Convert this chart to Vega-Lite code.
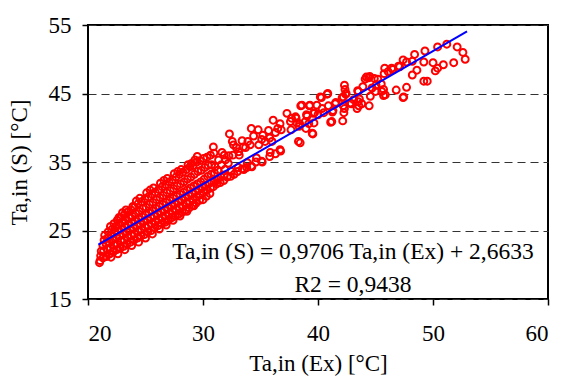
{
"$schema":"https://vega.github.io/schema/vega-lite/v6.json",
"width":460,"height":274,
"autosize":{"type":"none"},
"padding":{"left":88,"top":25,"right":14,"bottom":79},
"background":"white",
"config":{"view":{"stroke":"black","strokeWidth":2},"font":"'Liberation Serif', serif",
"axis":{"labelFont":"'Liberation Serif', serif","titleFont":"'Liberation Serif', serif"},
"text":{"font":"'Liberation Serif', serif"}},
"datasets":{
"pts":[
{"x":21.0,"y":20.3},{"x":21.05,"y":20.6},{"x":21.1,"y":21.3},{"x":21.15,"y":22.0},
{"x":21.3,"y":21.0},{"x":21.35,"y":22.0},{"x":21.3,"y":22.8},
{"x":21.6,"y":21.2},{"x":21.65,"y":22.3},{"x":21.55,"y":23.1},
{"x":21.9,"y":21.6},{"x":21.95,"y":22.4},{"x":21.85,"y":23.3},
{"x":22.2,"y":21.9},{"x":22.25,"y":22.9},{"x":22.15,"y":23.7},
{"x":22.5,"y":22.2},{"x":22.55,"y":23.0},{"x":22.45,"y":24.0},
{"x":22.8,"y":22.4},{"x":22.85,"y":23.5},{"x":22.75,"y":24.2},
{"x":23.1,"y":22.7},{"x":23.15,"y":23.6},{"x":23.05,"y":24.5},
{"x":23.4,"y":23.0},{"x":23.45,"y":24.0},{"x":23.35,"y":24.8},
{"x":23.7,"y":23.3},{"x":23.75,"y":24.3},{"x":23.65,"y":25.1},
{"x":24.0,"y":23.6},{"x":24.05,"y":24.5},{"x":23.95,"y":25.4},
{"x":24.3,"y":23.9},{"x":24.35,"y":24.9},{"x":24.25,"y":25.7},
{"x":24.6,"y":24.2},{"x":24.65,"y":25.1},{"x":24.55,"y":26.0},
{"x":24.9,"y":24.4},{"x":24.95,"y":25.5},{"x":24.85,"y":26.3},
{"x":25.2,"y":24.8},{"x":25.25,"y":25.7},{"x":25.15,"y":26.6},
{"x":25.5,"y":25.0},{"x":25.55,"y":26.0},{"x":25.45,"y":26.9},
{"x":25.8,"y":25.4},{"x":25.85,"y":26.3},{"x":25.75,"y":27.1},
{"x":26.1,"y":25.7},{"x":26.15,"y":26.6},{"x":26.05,"y":27.4},
{"x":26.4,"y":26.0},{"x":26.45,"y":26.9},{"x":26.35,"y":27.7},
{"x":26.7,"y":26.2},{"x":26.75,"y":27.2},{"x":26.65,"y":28.0},
{"x":27.0,"y":26.5},{"x":27.05,"y":27.5},{"x":26.95,"y":28.3},
{"x":27.3,"y":26.9},{"x":27.35,"y":27.8},{"x":27.25,"y":28.6},
{"x":27.6,"y":27.1},{"x":27.65,"y":28.1},{"x":27.55,"y":28.9},
{"x":27.9,"y":27.4},{"x":27.95,"y":28.4},{"x":27.85,"y":29.2},
{"x":28.2,"y":27.7},{"x":28.25,"y":28.6},{"x":28.15,"y":29.5},
{"x":28.5,"y":28.0},{"x":28.55,"y":29.0},{"x":28.45,"y":29.8},
{"x":28.8,"y":28.3},{"x":28.85,"y":29.2},{"x":28.75,"y":30.1},
{"x":29.1,"y":28.7},{"x":29.15,"y":29.5},{"x":29.05,"y":30.4},
{"x":29.4,"y":29.0},{"x":29.45,"y":29.9},{"x":29.35,"y":30.7},
{"x":29.7,"y":29.4},{"x":29.75,"y":30.2},{"x":29.65,"y":31.0},
{"x":30.0,"y":29.5},{"x":30.05,"y":30.6},{"x":29.95,"y":31.3},
{"x":30.3,"y":30.0},{"x":30.35,"y":30.9},{"x":30.25,"y":31.6},
{"x":30.6,"y":30.4},{"x":30.65,"y":31.2},{"x":30.55,"y":31.9},
{"x":30.9,"y":31.4},{"x":30.95,"y":32.1},
{"x":31.2,"y":31.8},{"x":31.25,"y":32.4},
{"x":31.5,"y":32.0},{"x":31.55,"y":32.8},
{"x":31.8,"y":32.3},{"x":31.85,"y":33.1},
{"x":32.1,"y":32.8},{"x":32.4,"y":32.9},{"x":32.45,"y":33.6},
{"x":32.7,"y":33.2},{"x":33.0,"y":33.6},{"x":33.05,"y":34.2},
{"x":33.4,"y":34.0},{"x":33.8,"y":34.2},{"x":33.85,"y":34.9},
{"x":34.2,"y":34.4},{"x":34.6,"y":35.0},{"x":34.65,"y":35.6},
{"x":35.1,"y":35.1},{"x":35.8,"y":35.8},{"x":35.85,"y":36.4},
{"x":36.3,"y":36.2},{"x":36.7,"y":36.8},{"x":36.75,"y":36.6},
{"x":22.0,"y":21.1},{"x":22.6,"y":21.6},{"x":23.2,"y":22.2},{"x":23.8,"y":22.8},
{"x":24.4,"y":23.3},{"x":25.0,"y":23.9},{"x":25.6,"y":24.5},{"x":26.2,"y":25.2},
{"x":26.8,"y":25.8},{"x":27.4,"y":26.5},{"x":28.0,"y":27.1},{"x":28.6,"y":27.8},
{"x":29.2,"y":28.6},
{"x":21.4,"y":23.6},{"x":21.45,"y":24.3},
{"x":21.7,"y":23.9},{"x":21.75,"y":24.8},
{"x":22.0,"y":24.3},{"x":22.05,"y":25.1},{"x":21.95,"y":25.6},
{"x":22.3,"y":24.6},{"x":22.35,"y":25.5},{"x":22.25,"y":26.0},
{"x":22.6,"y":24.9},{"x":22.65,"y":25.8},{"x":22.55,"y":26.5},
{"x":22.9,"y":25.2},{"x":22.95,"y":26.2},{"x":22.85,"y":26.9},
{"x":23.2,"y":25.5},{"x":23.25,"y":26.5},{"x":23.15,"y":27.3},
{"x":23.5,"y":25.8},{"x":23.55,"y":26.9},{"x":23.45,"y":27.7},
{"x":23.8,"y":26.1},{"x":23.85,"y":27.1},{"x":23.75,"y":28.0},{"x":23.9,"y":28.5},
{"x":24.1,"y":26.4},{"x":24.15,"y":27.5},{"x":24.05,"y":28.4},
{"x":24.4,"y":26.7},{"x":24.45,"y":27.8},{"x":24.35,"y":28.9},
{"x":24.7,"y":27.0},{"x":24.75,"y":28.2},{"x":24.65,"y":29.2},
{"x":25.0,"y":27.3},{"x":25.05,"y":28.4},{"x":24.95,"y":29.6},
{"x":25.3,"y":27.6},{"x":25.35,"y":28.8},{"x":25.25,"y":29.9},
{"x":25.6,"y":27.9},{"x":25.65,"y":29.1},{"x":25.55,"y":30.3},
{"x":25.9,"y":28.2},{"x":25.95,"y":29.5},{"x":25.85,"y":30.6},
{"x":26.2,"y":28.5},{"x":26.25,"y":29.8},{"x":26.15,"y":31.0},
{"x":26.5,"y":28.8},{"x":26.55,"y":30.1},{"x":26.45,"y":31.4},
{"x":26.8,"y":29.1},{"x":26.85,"y":30.5},{"x":26.75,"y":31.7},
{"x":27.1,"y":29.4},{"x":27.15,"y":30.8},{"x":27.05,"y":32.1},
{"x":27.4,"y":29.7},{"x":27.45,"y":31.1},{"x":27.35,"y":32.4},
{"x":27.7,"y":30.0},{"x":27.75,"y":31.5},{"x":27.65,"y":32.8},
{"x":28.0,"y":30.3},{"x":28.05,"y":31.8},{"x":27.95,"y":33.2},
{"x":28.3,"y":30.6},{"x":28.35,"y":32.1},{"x":28.25,"y":33.5},
{"x":28.6,"y":30.9},{"x":28.65,"y":32.5},{"x":28.55,"y":33.9},
{"x":28.9,"y":31.2},{"x":28.95,"y":32.8},{"x":28.85,"y":34.3},{"x":29.0,"y":34.8},
{"x":29.2,"y":31.5},{"x":29.25,"y":33.2},{"x":29.15,"y":34.5},
{"x":29.5,"y":31.8},{"x":29.55,"y":33.6},{"x":29.45,"y":35.0},{"x":29.5,"y":35.8},
{"x":29.8,"y":32.1},{"x":29.85,"y":33.8},{"x":29.75,"y":35.2},
{"x":30.1,"y":32.5},{"x":30.15,"y":34.2},{"x":30.05,"y":35.5},
{"x":30.4,"y":32.9},{"x":30.45,"y":34.5},{"x":30.35,"y":35.7},
{"x":30.7,"y":33.2},{"x":30.75,"y":34.6},{"x":30.65,"y":36.0},
{"x":22.7,"y":26.9},{"x":23.0,"y":27.6},{"x":23.3,"y":28.0},{"x":24.2,"y":29.3},
{"x":24.5,"y":29.7},{"x":25.1,"y":30.5},{"x":25.4,"y":30.9},{"x":25.7,"y":31.2},
{"x":26.3,"y":31.9},{"x":26.6,"y":32.3},{"x":26.9,"y":32.6},{"x":27.5,"y":33.3},
{"x":27.8,"y":33.6},{"x":28.1,"y":33.9},{"x":28.7,"y":34.6},{"x":29.3,"y":35.3},
{"x":31.0,"y":33.4},{"x":31.05,"y":34.3},{"x":30.95,"y":36.3},{"x":30.9,"y":37.2},
{"x":31.3,"y":33.8},{"x":31.35,"y":35.3},
{"x":31.6,"y":34.6},{"x":31.65,"y":36.4},
{"x":31.9,"y":33.9},{"x":31.95,"y":35.3},{"x":31.85,"y":36.0},
{"x":32.2,"y":34.8},{"x":32.25,"y":35.9},{"x":32.3,"y":39.1},
{"x":32.6,"y":36.0},{"x":32.65,"y":37.5},{"x":32.55,"y":38.0},
{"x":32.9,"y":37.1},{"x":33.1,"y":36.5},{"x":33.15,"y":36.0},
{"x":33.4,"y":38.1},{"x":33.5,"y":37.2},{"x":33.55,"y":33.9},
{"x":33.7,"y":37.1},{"x":33.9,"y":38.0},{"x":34.1,"y":37.5},
{"x":34.2,"y":39.9},{"x":34.25,"y":34.3},{"x":34.4,"y":38.8},
{"x":34.8,"y":39.7},{"x":34.85,"y":37.5},{"x":35.1,"y":38.3},
{"x":35.15,"y":35.0},{"x":35.2,"y":38.9},{"x":35.4,"y":38.0},
{"x":35.7,"y":39.6},{"x":35.8,"y":38.5},{"x":36.0,"y":38.0},
{"x":36.1,"y":41.1},{"x":36.3,"y":39.3},{"x":36.5,"y":39.9},
{"x":36.7,"y":40.6},{"x":36.8,"y":39.7},
{"x":37.3,"y":42.1},{"x":37.6,"y":40.9},{"x":37.65,"y":39.7},{"x":37.7,"y":41.4},
{"x":38.1,"y":41.4},{"x":38.15,"y":40.7},{"x":38.05,"y":41.6},
{"x":38.3,"y":38.0},{"x":38.35,"y":40.2},{"x":38.4,"y":40.6},{"x":38.45,"y":37.8},
{"x":38.5,"y":43.2},{"x":38.6,"y":43.3},{"x":38.9,"y":40.9},
{"x":39.0,"y":41.9},{"x":39.05,"y":41.7},{"x":38.95,"y":39.9},
{"x":39.2,"y":40.6},{"x":39.25,"y":43.2},{"x":39.3,"y":43.3},
{"x":39.5,"y":39.2},{"x":39.55,"y":39.1},{"x":39.6,"y":42.1},{"x":39.65,"y":40.7},
{"x":39.7,"y":42.2},{"x":39.9,"y":43.3},{"x":40.0,"y":41.9},
{"x":40.2,"y":44.5},{"x":40.3,"y":44.4},{"x":40.35,"y":42.8},{"x":40.5,"y":42.2},
{"x":40.8,"y":44.9},{"x":40.85,"y":45.0},{"x":40.9,"y":43.2},
{"x":41.1,"y":40.8},{"x":41.2,"y":40.9},{"x":41.25,"y":42.3},{"x":41.3,"y":42.5},
{"x":41.5,"y":43.5},{"x":41.55,"y":43.7},
{"x":42.1,"y":44.4},{"x":42.15,"y":41.0},
{"x":42.2,"y":43.2},{"x":42.25,"y":42.2},{"x":42.2,"y":44.5},
{"x":42.3,"y":46.2},{"x":42.35,"y":45.6},{"x":42.3,"y":42.8},
{"x":42.4,"y":44.9},{"x":42.45,"y":45.0},
{"x":42.8,"y":43.6},{"x":42.9,"y":43.5},{"x":43.1,"y":44.1},
{"x":43.4,"y":42.8},{"x":43.45,"y":45.4},
{"x":43.5,"y":45.3},{"x":43.55,"y":43.2},{"x":43.5,"y":43.8},
{"x":43.6,"y":44.2},{"x":43.8,"y":43.5},{"x":43.9,"y":46.0},
{"x":44.1,"y":47.1},{"x":44.2,"y":47.4},{"x":44.4,"y":47.3},{"x":44.45,"y":43.2},
{"x":44.5,"y":47.5},{"x":44.55,"y":44.6},{"x":44.7,"y":45.8},{"x":44.9,"y":47.2},
{"x":45.0,"y":45.3},{"x":45.05,"y":46.2},{"x":45.2,"y":47.1},
{"x":45.5,"y":46.4},{"x":45.55,"y":45.3},
{"x":45.7,"y":45.6},{"x":45.75,"y":47.9},{"x":45.7,"y":44.7},
{"x":45.8,"y":48.7},{"x":45.85,"y":44.8},{"x":46.1,"y":48.2},
{"x":46.4,"y":48.7},{"x":46.5,"y":48.5},{"x":46.8,"y":45.5},
{"x":47.0,"y":49.0},{"x":47.1,"y":48.9},
{"x":47.4,"y":49.9},{"x":47.4,"y":44.4},{"x":47.45,"y":44.5},
{"x":47.7,"y":45.9},{"x":47.7,"y":49.6},
{"x":48.2,"y":49.7},{"x":48.2,"y":47.7},{"x":48.4,"y":50.7},{"x":48.6,"y":48.4},
{"x":49.2,"y":49.6},{"x":49.2,"y":46.8},{"x":49.3,"y":51.2},{"x":49.5,"y":46.8},
{"x":50.0,"y":49.5},{"x":50.2,"y":48.3},{"x":50.4,"y":51.8},{"x":50.4,"y":48.7},
{"x":50.9,"y":49.2},{"x":51.2,"y":52.2},{"x":51.8,"y":49.5},
{"x":52.1,"y":51.8},{"x":52.6,"y":51.0},{"x":52.8,"y":50.0}
],
"fit":[{"x":20.9,"y":22.95},{"x":52.96,"y":54.06}],
"labels":[
{"x":43.04,"y":21.86,"t":"Ta,in (S) = 0,9706 Ta,in (Ex) + 2,6633"},
{"x":43.04,"y":17.04,"t":"R2 = 0,9438"}
]
},
"layer":[
{"data":{"name":"pts"},
 "mark":{"type":"point","shape":"circle","filled":false,"stroke":"#ff0000","strokeWidth":2,"size":48,"opacity":1},
 "encoding":{
  "x":{"field":"x","type":"quantitative","scale":{"domain":[20,60],"nice":false,"zero":false},
   "axis":{"values":[20,30,40,50,60],"title":"Ta,in (Ex) [°C]","domain":false,"grid":false,
    "tickColor":"black","tickSize":6,"tickWidth":1.5,"labelFontSize":23,"labelColor":"black",
    "labelPadding":17,"titleFontSize":23,"titleFontWeight":"normal","titleColor":"black","titlePadding":7}},
  "y":{"field":"y","type":"quantitative","scale":{"domain":[15,55],"nice":false,"zero":false},
   "axis":{"values":[15,25,35,45,55],"title":"Ta,in (S) [°C]","domain":false,"grid":true,"gridColor":"#333333","gridDash":[8,5],"gridWidth":1.2,
    "tickColor":"black","tickSize":6,"tickWidth":1.5,"labelFontSize":23,"labelColor":"black",
    "labelPadding":11,"titleFontSize":23,"titleFontWeight":"normal","titleColor":"black","titlePadding":17}}
 }},
{"data":{"name":"fit"},
 "mark":{"type":"line","color":"#0000ff","strokeWidth":2},
 "encoding":{"x":{"field":"x","type":"quantitative"},"y":{"field":"y","type":"quantitative"}}},
{"data":{"name":"labels"},
 "mark":{"type":"text","fontSize":23.5,"color":"black","align":"center","baseline":"middle"},
 "encoding":{"x":{"field":"x","type":"quantitative"},"y":{"field":"y","type":"quantitative"},"text":{"field":"t"}}}
]
}
